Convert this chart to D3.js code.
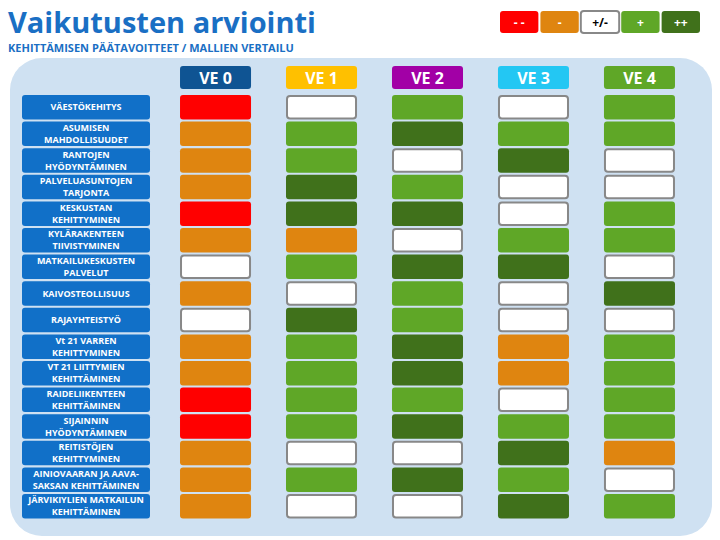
<!DOCTYPE html><html><head><meta charset="utf-8">
<script src="https://cdn.jsdelivr.net/npm/d3@7"></script>
<style>body{margin:0;background:#fff}text{font-family:"Liberation Sans Narrow","Open Sans",sans-serif}</style></head><body>
<svg id="c" width="720" height="540"></svg>
<script>
const alternatives=["VE 0","VE 1","VE 2","VE 3","VE 4"];
const altColors=["#0f5493","#ffc000","#a200a6","#23c7f3","#5fa727"];
const criteria=[["VÄESTÖKEHITYS"],["ASUMISEN","MAHDOLLISUUDET"],["RANTOJEN","HYÖDYNTÄMINEN"],["PALVELUASUNTOJEN","TARJONTA"],["KESKUSTAN","KEHITTYMINEN"],["KYLÄRAKENTEEN","TIIVISTYMINEN"],["MATKAILUKESKUSTEN","PALVELUT"],["KAIVOSTEOLLISUUS"],["RAJAYHTEISTYÖ"],["Vt 21 VARREN","KEHITTYMINEN"],["VT 21 LIITTYMIEN","KEHITTÄMINEN"],["RAIDELIIKENTEEN","KEHITTÄMINEN"],["SIJAINNIN","HYÖDYNTÄMINEN"],["REITISTÖJEN","KEHITTYMINEN"],["AINIOVAARAN JA AAVA-","SAKSAN KEHITTÄMINEN"],["JÄRVIKIYLIEN MATKAILUN","KEHITTÄMINEN"]];
const scores=[[-2,0,1,0,1],[-1,1,2,1,1],[-1,1,0,2,0],[-1,2,1,0,0],[-2,2,2,0,1],[-1,-1,0,1,1],[0,1,2,2,0],[-1,0,1,0,2],[0,2,1,0,0],[-1,1,2,-1,1],[-1,1,2,-1,1],[-2,1,1,0,1],[-2,1,2,1,1],[-1,0,0,2,-1],[-1,1,2,1,0],[-1,0,0,2,1]];
const legendLevels=[-2,-1,0,1,2];
const legendLabels=["- -","-","+/-","+","++"];
const scoreColors=["#ff0000","#df8510","#ffffff","#5fa727","#40711b"];

const svg=d3.select("#c");
const col=d3.scaleOrdinal().domain(legendLevels).range(scoreColors);
svg.append("text").attr("x",8).attr("y",33).attr("font-size",29).attr("font-weight","bold").attr("fill","#1a6fc4").text("Vaikutusten arviointi");
svg.append("text").attr("x",8).attr("y",52).attr("font-size",11).attr("font-weight","bold").attr("fill","#1a6fc4").text("KEHITTÄMISEN PÄÄTAVOITTEET / MALLIEN VERTAILU");
const lx=d3.scaleBand().domain(legendLevels).range([500,700]).paddingInner(0.05);
const lg=svg.append("g").selectAll("g").data(legendLevels).join("g");
lg.append("rect").attr("x",d=>lx(d)).attr("y",11).attr("width",lx.bandwidth()).attr("height",22).attr("rx",3)
  .attr("fill",d=>col(d)).attr("stroke",d=>d===0?"#888":"none").attr("stroke-width",2);
lg.append("text").attr("x",d=>lx(d)+lx.bandwidth()/2).attr("y",27).attr("text-anchor","middle").attr("font-size",12).attr("font-weight","bold")
  .attr("fill",d=>d===0?"#000":"#fff").text((d,i)=>legendLabels[i]);

svg.append("rect").attr("x",10).attr("y",58).attr("width",702).attr("height",478).attr("rx",32).attr("fill","#cfe1f2");
const x=d3.scaleBand().domain(alternatives).range([162,693]).paddingInner(0.33).paddingOuter(0.17);
const y=d3.scaleBand().domain(d3.range(criteria.length)).range([95,518.5]).paddingInner(0.08);
svg.selectAll(".h").data(alternatives).join("rect").attr("x",d=>x(d)).attr("y",66).attr("width",x.bandwidth()).attr("height",23).attr("rx",3).attr("fill",(d,i)=>altColors[i]);
svg.selectAll(".ht").data(alternatives).join("text").attr("x",d=>x(d)+x.bandwidth()/2).attr("y",84).attr("text-anchor","middle").attr("font-size",16).attr("font-weight","bold").attr("fill","#fff").text(d=>d);
const rg=svg.selectAll(".r").data(criteria).join("g");
rg.append("rect").attr("x",22).attr("y",(d,i)=>y(i)).attr("width",128).attr("height",y.bandwidth()).attr("rx",3).attr("fill","#1170c8");
rg.append("text").attr("x",86).attr("text-anchor","middle").attr("font-size",9).attr("font-weight","bold").attr("fill","#fff")
  .each(function(d,i){const t=d3.select(this);const c=y(i)+y.bandwidth()/2;
    d.forEach((s,k)=>t.append("tspan").attr("x",86).attr("y",c+3.2+(k-(d.length-1)/2)*12).text(s));});
const cells=[];scores.forEach((r,i)=>r.forEach((v,j)=>cells.push({i,j,v})));
svg.selectAll(".cell").data(cells).join("rect").attr("x",d=>x(alternatives[d.j])+(d.v===0?1:0)).attr("y",d=>y(d.i)+(d.v===0?1:0))
  .attr("width",d=>x.bandwidth()-(d.v===0?2:0)).attr("height",d=>y.bandwidth()-(d.v===0?2:0)).attr("rx",3)
  .attr("fill",d=>col(d.v)).attr("stroke",d=>d.v===0?"#888":"none").attr("stroke-width",2);
</script></body></html>
